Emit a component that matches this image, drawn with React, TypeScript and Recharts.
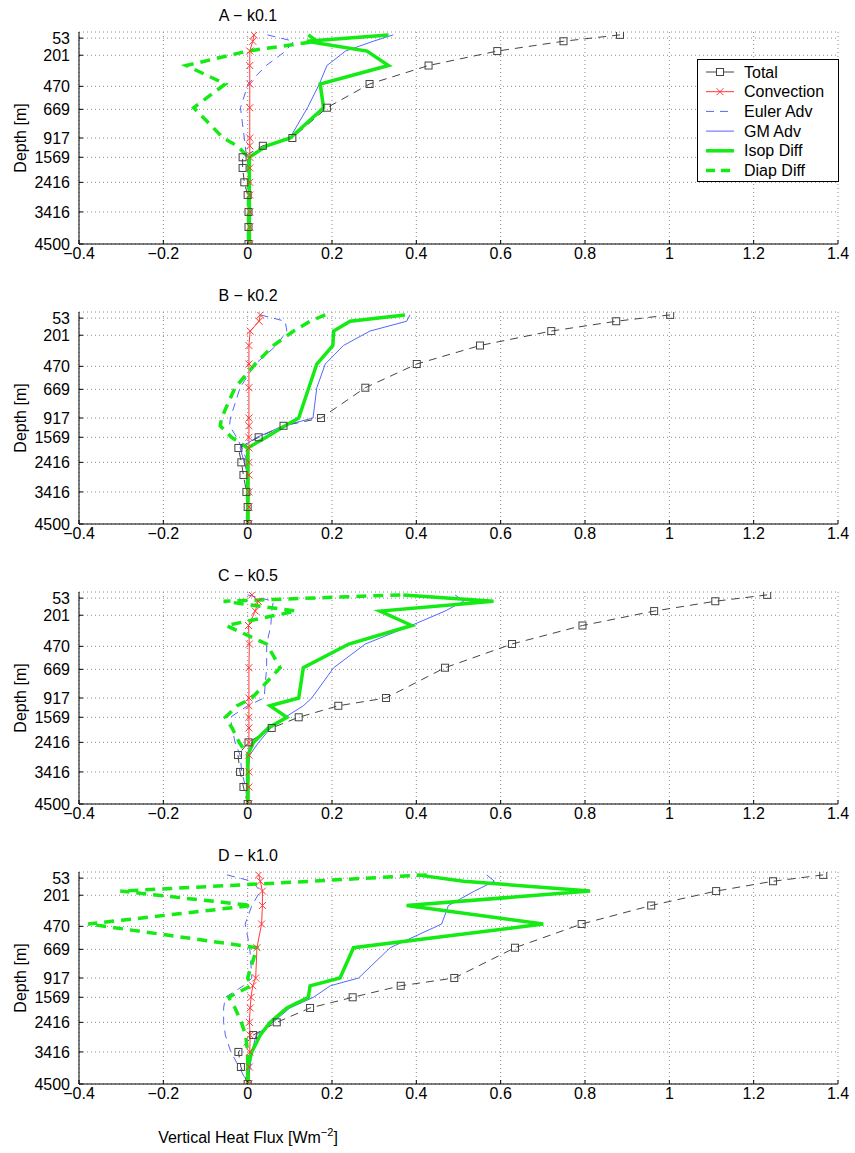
import React from 'react';
import { LineChart, Line, XAxis, YAxis, CartesianGrid } from 'recharts';

// ---------- axis / label data ----------
const levelDepths = [25, 80, 165, 290, 450, 655, 917, 1180, 1569, 1930, 2416, 2845, 3416, 3925, 4500];
const depthTicks = [53, 201, 470, 669, 917, 1569, 2416, 3416, 4500];
const fluxTicks = [-0.4, -0.2, 0, 0.2, 0.4, 0.6, 0.8, 1, 1.2, 1.4];
const panelTitles = ['A \u2212 k0.1', 'B \u2212 k0.2', 'C \u2212 k0.5', 'D \u2212 k1.0'];
const seriesNames = ['Total', 'Convection', 'Euler Adv', 'GM Adv', 'Isop Diff', 'Diap Diff'];

// ---------- Panel A (k0.1) ----------
const totalA = [0.883, 0.749, 0.592, 0.429, 0.289, 0.188, 0.106, 0.036, -0.012, -0.012, -0.008, 0.0, 0.002, 0.002, 0.002];
const convA = [0.015, 0.012, 0.005, 0.005, 0.005, 0.005, 0.005, 0.005, 0.005, 0.005, 0.005, 0.005, 0.005, 0.005, 0.005];
const eulerA = [0.047, 0.109, 0.09, 0.044, 0.001, -0.017, -0.008, -0.006, -0.002, 0.002, 0.002, 0.002, 0.002, 0.002, 0.002];
const gmA = [0.345, 0.298, 0.232, 0.188, 0.17, 0.142, 0.1, 0.05, 0.005, 0.004, 0.004, 0.004, 0.004, 0.004, 0.004];
const isopA = [0.334, 0.14, 0.283, 0.334, 0.172, 0.18, 0.101, 0.045, 0.004, 0.004, 0.004, 0.004, 0.004, 0.004, 0.004];
const diapA = [0.144, 0.164, 0.0, -0.146, -0.053, -0.128, -0.058, -0.025, 0.002, 0.002, 0.002, 0.002, 0.002, 0.002, 0.002];

// ---------- Panel B (k0.2) ----------
const totalB = [1.002, 0.874, 0.72, 0.551, 0.401, 0.279, 0.174, 0.085, 0.026, -0.022, -0.015, -0.01, -0.003, 0.0, 0.0];
const convB = [0.03, 0.027, 0.006, 0.003, 0.003, 0.003, 0.003, 0.003, 0.003, 0.003, 0.003, 0.003, 0.003, 0.003, 0.003];
const eulerB = [0.03, 0.089, 0.093, 0.068, 0.018, -0.018, -0.041, -0.043, -0.026, -0.014, 0.0, 0.0, 0.0, 0.0, 0.0];
const gmB = [0.385, 0.377, 0.29, 0.227, 0.184, 0.164, 0.155, 0.085, 0.022, -0.018, -0.008, 0.0, 0.0, 0.0, 0.0];
const isopB = [0.373, 0.243, 0.204, 0.202, 0.164, 0.145, 0.121, 0.089, 0.044, 0.0, 0.0, 0.0, 0.0, 0.0, 0.0];
const diapB = [0.184, 0.148, 0.109, 0.061, 0.018, -0.03, -0.062, -0.065, -0.038, 0.0, 0.0, 0.0, 0.0, 0.0, 0.0];

// ---------- Panel C (k0.5) ----------
const totalC = [1.232, 1.109, 0.964, 0.794, 0.627, 0.468, 0.328, 0.215, 0.121, 0.057, 0.002, -0.023, -0.018, -0.01, 0.0];
const convC = [0.01, 0.025, 0.018, 0.002, 0.004, 0.003, 0.003, 0.003, 0.003, 0.003, 0.003, 0.003, 0.003, 0.003, 0.003];
const eulerC = [0.0, 0.061, 0.057, 0.055, 0.045, 0.045, 0.039, 0.0, -0.041, -0.037, -0.03, -0.018, -0.014, -0.005, 0.0];
const gmC = [0.492, 0.512, 0.468, 0.388, 0.279, 0.204, 0.152, 0.132, 0.089, 0.055, 0.026, 0.005, 0.0, 0.0, 0.0];
const isopC = [0.369, 0.583, 0.314, 0.389, 0.24, 0.132, 0.121, 0.053, 0.093, 0.049, 0.014, 0.0, 0.0, 0.0, 0.0];
const diapC = [0.362, -0.057, 0.115, -0.051, 0.045, 0.077, 0.01, -0.025, -0.053, -0.037, -0.02, 0.0, 0.0, 0.0, 0.0];

// ---------- Panel D (k1.0) ----------
const totalD = [1.365, 1.246, 1.111, 0.957, 0.792, 0.634, 0.49, 0.363, 0.249, 0.148, 0.069, 0.013, -0.022, -0.016, 0.0];
const convD = [0.026, 0.03, 0.035, 0.035, 0.033, 0.022, 0.019, 0.012, 0.008, 0.006, 0.004, 0.006, 0.005, 0.004, 0.003];
const eulerD = [-0.049, 0.01, 0.03, 0.01, -0.006, 0.005, 0.01, -0.01, -0.053, -0.057, -0.057, -0.053, -0.04, -0.02, 0.0];
const gmD = [0.567, 0.585, 0.538, 0.476, 0.46, 0.338, 0.263, 0.196, 0.156, 0.1, 0.06, 0.02, 0.01, 0.006, 0.0];
const isopD = [0.401, 0.512, 0.812, 0.377, 0.701, 0.251, 0.219, 0.148, 0.144, 0.093, 0.053, 0.03, 0.01, 0.0, 0.0];
const diapD = [0.425, 0.15, -0.302, 0.01, -0.378, 0.022, 0.0, 0.008, -0.045, -0.03, -0.015, -0.005, 0.0, 0.0, 0.0];

// ---------- styling ----------
const FONT = '"Liberation Sans", Arial, Helvetica, sans-serif';
const COL_TOTAL = '#454545';
const COL_CONV = '#ff3a3a';
const COL_BLUE = '#5566ff';
const COL_GREEN = '#14ea14';

// piecewise-linear depth axis: 0..917 m on the upper half, 917..4500 m on the lower half
const BREAK_DEPTH = 917;
const MAX_DEPTH = 4500;
const depthToAxis = (d: number) =>
  d <= BREAK_DEPTH ? d / BREAK_DEPTH : 1 + (d - BREAK_DEPTH) / (MAX_DEPTH - BREAK_DEPTH);
const depthTickPos = depthTicks.map(depthToAxis);

const buildRows = (total: number[], conv: number[], euler: number[], gm: number[], isop: number[], diap: number[]) =>
  levelDepths.map((d, i) => ({
    u: depthToAxis(d),
    total: total[i],
    conv: conv[i],
    euler: euler[i],
    gm: gm[i],
    isop: isop[i],
    diap: diap[i],
  }));

const panels = [
  { title: panelTitles[0], data: buildRows(totalA, convA, eulerA, gmA, isopA, diapA) },
  { title: panelTitles[1], data: buildRows(totalB, convB, eulerB, gmB, isopB, diapB) },
  { title: panelTitles[2], data: buildRows(totalC, convC, eulerC, gmC, isopC, diapC) },
  { title: panelTitles[3], data: buildRows(totalD, convD, eulerD, gmD, isopD, diapD) },
];

const fmtFlux = (v: number) => {
  const s = String(Math.round(v * 10) / 10);
  return s.replace('-', '\u2212');
};
const fmtDepth = (v: number) => {
  const i = depthTickPos.findIndex((t) => Math.abs(t - v) < 1e-6);
  return i >= 0 ? String(depthTicks[i]) : '';
};

const SquareDot = (props: any) => {
  const { cx, cy, index } = props;
  if (cx == null || cy == null) return <g key={`sq-${index}`} />;
  return (
    <rect key={`sq-${index}`} x={cx - 3.5} y={cy - 3.5} width={7} height={7} fill="none" stroke={COL_TOTAL} strokeWidth={1} />
  );
};

const CrossDot = (props: any) => {
  const { cx, cy, index } = props;
  if (cx == null || cy == null) return <g key={`x-${index}`} />;
  return (
    <path
      key={`x-${index}`}
      d={`M${cx - 3.5},${cy - 3.5}L${cx + 3.5},${cy + 3.5}M${cx - 3.5},${cy + 3.5}L${cx + 3.5},${cy - 3.5}`}
      stroke={COL_CONV}
      strokeWidth={1}
      fill="none"
    />
  );
};

const tickStyle = { fontSize: 16, fill: '#000', fontFamily: FONT };

function Panel({ data, top }: { data: any[]; top: number }) {
  return (
    <div style={{ position: 'absolute', left: 0, top, width: 855, height: 280 }}>
      <LineChart
        width={855}
        height={280}
        data={data}
        layout="vertical"
        margin={{ top: 32, right: 17, bottom: 6, left: 9 }}
      >
        <CartesianGrid stroke="#8f8f8f" strokeDasharray="1 3" />
        <XAxis
          type="number"
          domain={[-0.4, 1.4]}
          allowDataOverflow
          ticks={fluxTicks}
          interval={0}
          tickFormatter={fmtFlux}
          height={30}
          tick={tickStyle}
          tickSize={-4}
          tickMargin={8}
          axisLine={{ stroke: '#000' }}
          tickLine={{ stroke: '#000' }}
        />
        <YAxis
          type="number"
          dataKey="u"
          domain={[0, 2]}
          allowDataOverflow
          ticks={depthTickPos}
          interval={0}
          tickFormatter={fmtDepth}
          width={70}
          tick={tickStyle}
          tickSize={-4}
          tickMargin={13}
          axisLine={{ stroke: '#000' }}
          tickLine={{ stroke: '#000' }}
        />
        <Line dataKey="total" name={seriesNames[0]} stroke={COL_TOTAL} strokeWidth={1} strokeDasharray="8 6" dot={SquareDot} activeDot={false} isAnimationActive={false} />
        <Line dataKey="conv" name={seriesNames[1]} stroke={COL_CONV} strokeWidth={1} dot={CrossDot} activeDot={false} isAnimationActive={false} />
        <Line dataKey="euler" name={seriesNames[2]} stroke={COL_BLUE} strokeWidth={1} strokeDasharray="8 6" dot={false} activeDot={false} isAnimationActive={false} />
        <Line dataKey="gm" name={seriesNames[3]} stroke={COL_BLUE} strokeWidth={1} dot={false} activeDot={false} isAnimationActive={false} />
        <Line dataKey="isop" name={seriesNames[4]} stroke={COL_GREEN} strokeWidth={3.5} dot={false} activeDot={false} isAnimationActive={false} strokeLinejoin="miter" />
        <Line dataKey="diap" name={seriesNames[5]} stroke={COL_GREEN} strokeWidth={3.5} strokeDasharray="10 7" dot={false} activeDot={false} isAnimationActive={false} />
      </LineChart>
    </div>
  );
}

function LegendBox() {
  const rowY = [12, 31.7, 51.4, 71.1, 90.8, 110.5];
  const sample = (i: number, y: number) => {
    switch (i) {
      case 0:
        return (
          <g>
            <line x1={9} x2={37} y1={y} y2={y} stroke={COL_TOTAL} strokeWidth={1} />
            <rect x={19.5} y={y - 3.5} width={7} height={7} fill="#fff" stroke={COL_TOTAL} />
          </g>
        );
      case 1:
        return (
          <g>
            <line x1={9} x2={37} y1={y} y2={y} stroke={COL_CONV} strokeWidth={1} />
            <path d={`M19.5,${y - 3.5}L26.5,${y + 3.5}M19.5,${y + 3.5}L26.5,${y - 3.5}`} stroke={COL_CONV} />
          </g>
        );
      case 2:
        return <line x1={9} x2={37} y1={y} y2={y} stroke={COL_BLUE} strokeWidth={1} strokeDasharray="8 6" />;
      case 3:
        return <line x1={9} x2={37} y1={y} y2={y} stroke={COL_BLUE} strokeWidth={1} />;
      case 4:
        return <line x1={9} x2={37} y1={y} y2={y} stroke={COL_GREEN} strokeWidth={3.5} />;
      default:
        return <line x1={9} x2={37} y1={y} y2={y} stroke={COL_GREEN} strokeWidth={3.5} strokeDasharray="9 6" />;
    }
  };
  return (
    <svg
      width={143}
      height={124}
      style={{ position: 'absolute', left: 697, top: 59, overflow: 'visible' }}
    >
      <rect x={0.5} y={0.5} width={141} height={122} fill="#fff" stroke="#000" strokeWidth={1} />
      {seriesNames.map((name, i) => (
        <g key={name}>
          {sample(i, rowY[i] + 1)}
          <text x={47} y={rowY[i] + 1} dominantBaseline="central" fontSize={16} fontFamily={FONT} fill="#000">
            {name}
          </text>
        </g>
      ))}
    </svg>
  );
}

export default function App() {
  return (
    <div style={{ position: 'absolute', left: 0, top: 0, width: 855, height: 1153, background: '#fff', fontFamily: FONT }}>
      {panels.map((p, i) => (
        <Panel key={p.title} data={p.data} top={i * 280} />
      ))}
      <svg width={855} height={1153} style={{ position: 'absolute', left: 0, top: 0, pointerEvents: 'none' }}>
        {panels.map((p, i) => (
          <g key={`lbl-${i}`}>
            <text x={248} y={15 + i * 280} textAnchor="middle" dominantBaseline="central" fontSize={16} fontFamily={FONT} fill="#000">
              {p.title}
            </text>
            <text
              x={20}
              y={138 + i * 280}
              textAnchor="middle"
              dominantBaseline="central"
              fontSize={16}
              fontFamily={FONT}
              fill="#000"
              transform={`rotate(-90 20 ${138 + i * 280})`}
            >
              Depth [m]
            </text>
          </g>
        ))}
        <text x={248} y={1143} textAnchor="middle" fontSize={16} fontFamily={FONT} fill="#000">
          Vertical Heat Flux [Wm
          <tspan dy={-7} fontSize={11}>{'\u22122'}</tspan>
          <tspan dy={7}>]</tspan>
        </text>
      </svg>
      <LegendBox />
    </div>
  );
}
